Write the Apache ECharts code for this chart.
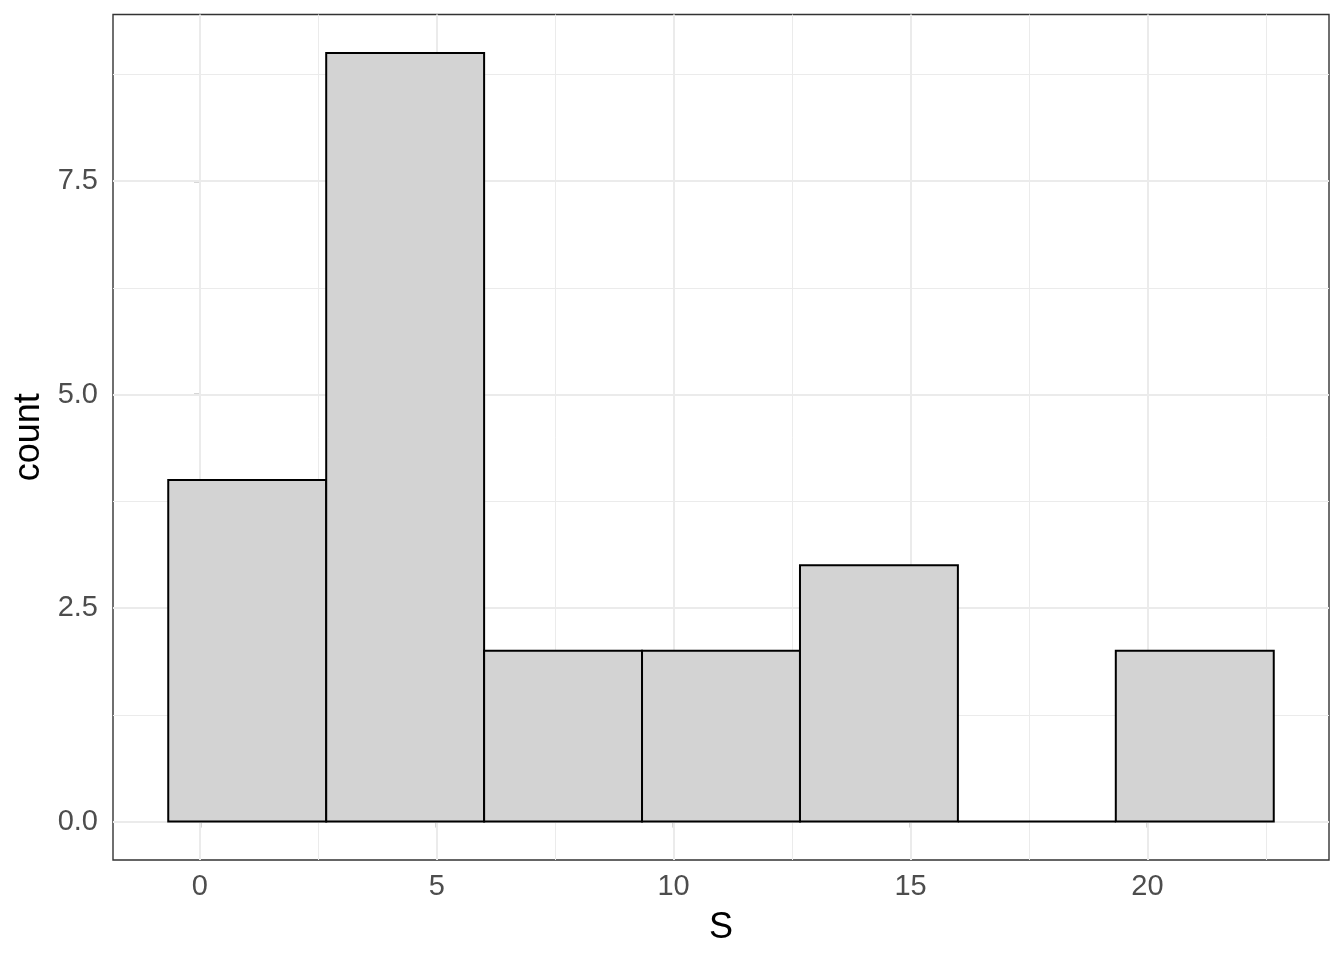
<!DOCTYPE html>
<html>
<head>
<meta charset="utf-8">
<script src="https://cdn.jsdelivr.net/npm/echarts@6/dist/echarts.min.js"></script>
<style>html,body{margin:0;padding:0;background:#fff;}#c{width:1344px;height:960px;}</style>
</head>
<body>
<div id="c"></div>
<script>
const binStart = [-0.667, 2.667, 6.0, 9.333, 12.667, 16.0, 19.333];
const binEnd   = [2.667, 6.0, 9.333, 12.667, 16.0, 19.333, 22.667];
const counts   = [4, 9, 2, 2, 3, 0, 2];
const xTicks = [0, 5, 10, 15, 20];
const xMinor = [2.5, 7.5, 12.5, 17.5, 22.5];
const yTicks = [0, 2.5, 5, 7.5];
const yMinor = [1.25, 3.75, 6.25, 8.75];

const data = binStart.map((s, i) => [s, binEnd[i], counts[i]]);
const font = 'Liberation Sans, Arial, sans-serif';

const gridLines = [];
xTicks.forEach(v => gridLines.push({xAxis: v, lineStyle: {width: 2}}));
xMinor.forEach(v => gridLines.push({xAxis: v, lineStyle: {width: 1}}));
yTicks.forEach(v => gridLines.push({yAxis: v, lineStyle: {width: 2}}));
yMinor.forEach(v => gridLines.push({yAxis: v, lineStyle: {width: 1}}));

const chart = echarts.init(document.getElementById('c'), null, {renderer: 'canvas'});
chart.setOption({
  animation: false,
  backgroundColor: '#fff',
  grid: {left: 113, right: 15, top: 14.5, bottom: 100, show: true, borderColor: '#333', borderWidth: 1.4, backgroundColor: '#fff'},
  xAxis: {
    type: 'value', min: -1.833, max: 23.833,
    name: 'S', nameLocation: 'middle', nameGap: 50,
    nameTextStyle: {fontFamily: font, fontSize: 36, color: '#000'},
    axisLine: {show: false},
    axisTick: {show: true, length: 6, lineStyle: {color: '#333', width: 1.4}, customValues: xTicks},
    axisLabel: {customValues: xTicks, fontFamily: font, fontSize: 29, color: '#4D4D4D', margin: 12},
    splitLine: {show: false}
  },
  yAxis: {
    type: 'value', min: -0.45, max: 9.45,
    name: 'count', nameLocation: 'middle', nameGap: 64,
    nameTextStyle: {fontFamily: font, fontSize: 36, color: '#000'},
    axisLine: {show: false},
    axisTick: {show: true, length: 6, lineStyle: {color: '#333', width: 1.4}, customValues: yTicks},
    axisLabel: {customValues: yTicks, fontFamily: font, fontSize: 29, color: '#4D4D4D', margin: 15,
      formatter: v => v.toFixed(1)},
    splitLine: {show: false}
  },
  series: [
    {
      type: 'line', data: [], z: 1, silent: true,
      markLine: {silent: true, z: 1, symbol: 'none', label: {show: false}, animation: false,
        lineStyle: {color: '#EBEBEB', type: 'solid'}, data: gridLines}
    },
    {
      type: 'custom', z: 10, silent: true,
      data: data,
      renderItem: function (params, api) {
        const p0 = api.coord([api.value(0), api.value(2)]);
        const p1 = api.coord([api.value(1), 0]);
        return {
          type: 'rect',
          shape: {x: p0[0], y: p0[1], width: p1[0] - p0[0], height: p1[1] - p0[1]},
          style: {fill: '#D3D3D3', stroke: '#000', lineWidth: 2}
        };
      },
      encode: {x: [0, 1], y: 2}
    }
  ]
});
</script>
</body>
</html>
